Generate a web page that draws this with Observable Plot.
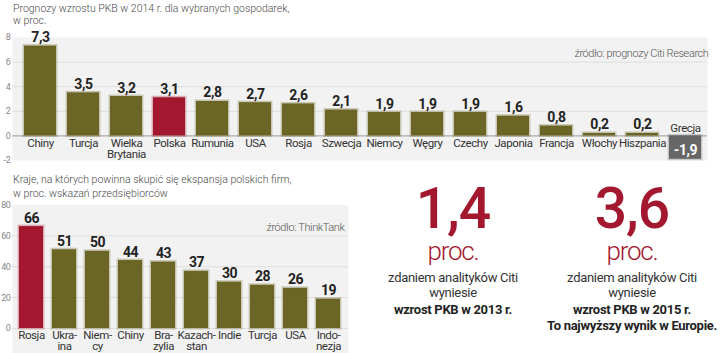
<!DOCTYPE html>
<html>
<head>
<meta charset="utf-8">
<script src="https://cdn.jsdelivr.net/npm/d3@7"></script>
<script src="https://cdn.jsdelivr.net/npm/@observablehq/plot@0.6"></script>
<style>
  html, body { margin: 0; padding: 0; background: #fff; }
  #page { position: relative; width: 720px; height: 353px; overflow: hidden; font-family: Roboto, sans-serif; }
  .abs { position: absolute; white-space: nowrap; }
  .title { font-size: 10.5px; font-weight: 300; color: #4a4a4a; line-height: 14px; left: 13px; }
  .big { font-family: Roboto, sans-serif; font-weight: 500; font-size: 57px; line-height: 57px; color: #a3182f; text-align: center; width: 180px; letter-spacing: -1px; }
  .proc { font-size: 26px; font-weight: 300; line-height: 26px; color: #a3182f; text-align: center; width: 180px; letter-spacing: -1.2px; }
  .line { font-size: 13px; line-height: 14px; color: #333; text-align: center; width: 220px; letter-spacing: -0.3px; }
  .b { font-weight: bold; color: #222; }
  svg { overflow: visible; }
  svg text { letter-spacing: -0.4px; }
</style>
</head>
<body>
<div id="page">
  <div class="abs title" style="top:2px">Prognozy wzrostu PKB w 2014 r. dla wybranych gospodarek,</div>
  <div class="abs title" style="top:14px">w proc.</div>
  <div id="chartTop" class="abs" style="left:0;top:28px"></div>

  <div class="abs title" style="top:173px">Kraje, na których powinna skupić się ekspansja polskich firm,</div>
  <div class="abs title" style="top:187px">w proc. wskazań przedsiębiorców</div>
  <div id="chartBottom" class="abs" style="left:0;top:195px"></div>

  <div id="kpi"></div>
</div>
<script>
// ---------- data ----------
const gdpCountries = ["Chiny","Turcja","Wielka\nBrytania","Polska","Rumunia","USA","Rosja","Szwecja","Niemcy","Węgry","Czechy","Japonia","Francja","Włochy","Hiszpania","Grecja"];
const gdpValues = [7.3,3.5,3.2,3.1,2.8,2.7,2.6,2.1,1.9,1.9,1.9,1.6,0.8,0.2,0.2,-1.9];
const gdpTicks = [-2,0,2,4,6,8];
const gdpHighlight = "Polska";
const gdpSource = "źródło: prognozy Citi Research";

const expCountries = ["Rosja","Ukra-\nina","Niem-\ncy","Chiny","Bra-\nzylia","Kazach-\nstan","Indie","Turcja","USA","Indo-\nnezja"];
const expValues = [66,51,50,44,43,37,30,28,26,19];
const expTicks = [0,20,40,60,80];
const expHighlight = "Rosja";
const expSource = "źródło: ThinkTank";

const kpiValues = ["1,4","3,6"];
const kpiUnit = "proc.";
const kpiLines = [
  [["zdaniem analityków Citi", false], ["wyniesie", false], ["wzrost PKB w 2013 r.", true]],
  [["zdaniem analityków Citi", false], ["wyniesie", false], ["wzrost PKB w 2015 r.", true], ["To najwyższy wynik w Europie.", true]]
];

// ---------- styles ----------
const OLIVE = "#6b6526", RED = "#a3182f", GREY = "#666666";
const FONT = "Roboto, sans-serif";
const fmt1 = v => v.toFixed(1).replace(".", ",");

// ---------- top chart ----------
const gdp = gdpCountries.map((c, i) => ({country: c, value: gdpValues[i]}));
const gdpColor = d => d.value < 0 ? GREY : (d.country === gdpHighlight ? RED : OLIVE);

const chartTop = Plot.plot({
  width: 720, height: 140,
  marginTop: 9, marginBottom: 8, marginLeft: 12, marginRight: 13,
  style: {fontFamily: FONT, background: "transparent", overflow: "visible"},
  color: {type: "identity"},
  x: {domain: gdpCountries, range: [17, 708.5], paddingInner: 0.25, paddingOuter: 0, axis: null},
  y: {domain: [-2, 8], axis: null},
  marks: [
    Plot.frame({fill: "#f2f2f2", stroke: "none"}),
    Plot.ruleY(gdpTicks.filter(t => t > 0 && t < 8), {stroke: "#dedede"}),
    Plot.axisY({ticks: gdpTicks, label: null, tickSize: 0, tickPadding: 2, fontSize: 9, fill: "#888", tickFormat: d => String(d)}),
    Plot.ruleY([0], {stroke: "#9a9a9a"}),
    Plot.barY(gdp, {x: "country", y: "value", fill: gdpColor, stroke: gdpColor, strokeOpacity: 0.3, strokeWidth: 3}),
    Plot.text(gdp.filter(d => d.value >= 0), {x: "country", y: "value", text: d => fmt1(d.value), lineAnchor: "bottom", dy: -4, fontSize: 14, fontWeight: "bold", fill: "#222"}),
    Plot.text(gdp.filter(d => d.value < 0), {x: "country", y: d => d.value / 2, text: d => fmt1(d.value), lineAnchor: "middle", dy: 3, fontSize: 14, fontWeight: "bold", fill: "#fff"}),
    Plot.text(gdp.filter(d => d.value >= 0), {x: "country", y: () => 0, text: "country", lineAnchor: "top", dy: 4, fontSize: 11.5, lineHeight: 0.92, fill: "#333"}),
    Plot.text(gdp.filter(d => d.value < 0), {x: "country", y: () => 0, text: "country", lineAnchor: "bottom", dy: -4, fontSize: 11.5, fill: "#333"}),
    Plot.text([gdpSource], {frameAnchor: "top-right", text: d => d, dx: 1, dy: 12, lineAnchor: "top", fontSize: 11, fontWeight: 300, fill: "#555"})
  ]
});
document.getElementById("chartTop").appendChild(chartTop);

// ---------- bottom chart ----------
const exp = expCountries.map((c, i) => ({country: c, value: expValues[i]}));
const expColor = d => d.country === expHighlight ? RED : OLIVE;

const chartBottom = Plot.plot({
  width: 360, height: 158,
  marginTop: 9.5, marginBottom: 0, marginLeft: 12, marginRight: 12,
  style: {fontFamily: FONT, background: "transparent", overflow: "visible"},
  color: {type: "identity"},
  x: {domain: expCountries, range: [15.5, 344.5], paddingInner: 0.26, paddingOuter: 0, axis: null},
  y: {domain: [-16.2, 80], axis: null},
  marks: [
    Plot.frame({fill: "#f2f2f2", stroke: "none"}),
    Plot.ruleY(expTicks.filter(t => t > 0 && t < 80), {stroke: "#dedede"}),
    Plot.axisY({ticks: expTicks, label: null, tickSize: 0, tickPadding: 2, fontSize: 9, fill: "#888", tickFormat: d => String(d)}),
    Plot.ruleY([0], {stroke: "#dedede"}),
    Plot.barY(exp, {x: "country", y: "value", fill: expColor, stroke: expColor, strokeOpacity: 0.3, strokeWidth: 3}),
    Plot.text(exp, {x: "country", y: "value", text: d => String(d.value), lineAnchor: "bottom", dy: -4, fontSize: 14, fontWeight: "bold", fill: "#222"}),
    Plot.text(exp, {x: "country", y: () => 0, text: "country", lineAnchor: "top", dy: 2, fontSize: 11.5, lineHeight: 0.98, fill: "#333"}),
    Plot.text([expSource], {frameAnchor: "top-right", text: d => d, dx: -4, dy: 18, lineAnchor: "top", fontSize: 11, fontWeight: 300, fill: "#555"})
  ]
});
document.getElementById("chartBottom").appendChild(chartBottom);

// ---------- KPI text blocks ----------
const kpi = document.getElementById("kpi");
const centers = [453, 632];
const lineTops = [271, 286, 303, 319];
kpiValues.forEach((v, i) => {
  const cx = centers[i];
  const big = document.createElement("div");
  big.className = "abs big"; big.style.left = (cx - 90) + "px"; big.style.top = "180px"; big.textContent = v;
  kpi.appendChild(big);
  const unit = document.createElement("div");
  unit.className = "abs proc"; unit.style.left = (cx - 90) + "px"; unit.style.top = "238px"; unit.textContent = kpiUnit;
  kpi.appendChild(unit);
  kpiLines[i].forEach(([t, bold], j) => {
    const l = document.createElement("div");
    l.className = "abs line" + (bold ? " b" : "");
    l.style.left = (cx - 110) + "px"; l.style.top = lineTops[j] + "px"; l.textContent = t;
    kpi.appendChild(l);
  });
});
</script>
</body>
</html>
